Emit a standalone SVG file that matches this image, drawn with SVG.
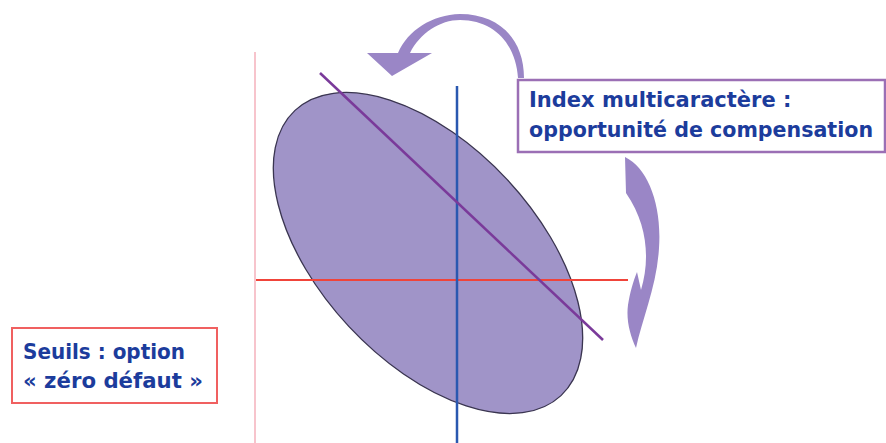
<svg xmlns="http://www.w3.org/2000/svg" width="886" height="443" viewBox="0 0 886 443">
<style>
.lbl{font-family:"DejaVu Sans","Liberation Sans",sans-serif;font-weight:bold;font-size:22px;fill:#1c3c9c}
.arr{fill:#9a86c6}
</style>
<rect width="886" height="443" fill="#ffffff"/>
<g id="axes">
<line x1="255" y1="52" x2="255" y2="443" stroke="#f7c4cc" stroke-width="2"/>
</g>
<g id="ellipse">
<ellipse cx="428" cy="253" rx="195" ry="108" transform="rotate(47 428 253)" fill="#a094c8" stroke="#3a3550" stroke-width="1.3"/>
</g>
<g id="connectors">
<line x1="256" y1="280" x2="628" y2="280" stroke="#f0443a" stroke-width="2"/>
<line x1="457" y1="86" x2="457" y2="443" stroke="#2a58b0" stroke-width="2.5"/>
<line x1="320" y1="73" x2="603" y2="340" stroke="#7a3a9a" stroke-width="2.5"/>
<path class="arr" d="M524,78 C524,40 500,14 460,14 C432,15 408,30 398,53 L367,53 L392,76 L432,53 L410,53 C420,33 440,20 460,20 C495,20 516,45 518,78 Z"/>
<path class="arr" d="M625,157 C648,168 662,205 659,248 C657,285 642,320 636,348 C630,335 626,320 628,305 C630,292 633,282 637,272 L641,290 C650,260 648,225 626,193 Z"/>
</g>
<g id="index-box">
<rect x="518" y="80" width="367" height="72" fill="#ffffff" stroke="#9b6fb5" stroke-width="2.5"/>
<text class="lbl" x="529" y="107" style="font-size:21px">Index multicaractère :</text>
<text class="lbl" x="529" y="137" style="font-size:20.6px">opportunité de compensation</text>
</g>
<g id="seuils-box">
<rect x="12" y="328" width="205" height="75" fill="#ffffff" stroke="#f06060" stroke-width="2"/>
<text class="lbl" x="23" y="359" textLength="162" lengthAdjust="spacingAndGlyphs">Seuils : option</text>
<text class="lbl" x="23" y="388" textLength="180" lengthAdjust="spacingAndGlyphs">« zéro défaut »</text>
</g>
</svg>
